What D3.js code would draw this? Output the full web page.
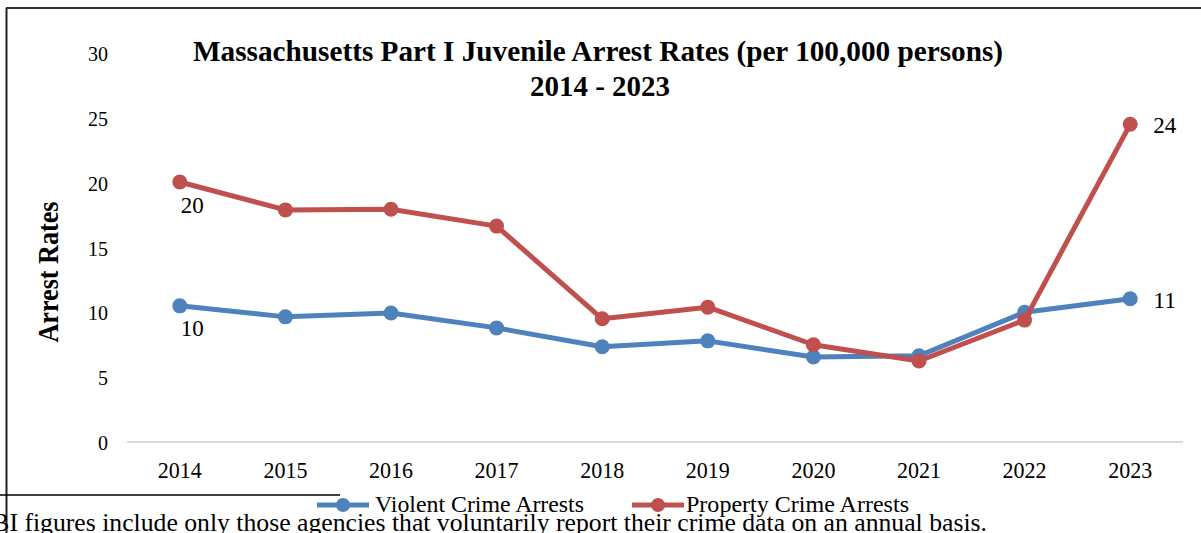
<!DOCTYPE html>
<html><head><meta charset="utf-8">
<script src="https://cdn.jsdelivr.net/npm/d3@7"></script>
<style>body{margin:0;background:#fff;overflow:hidden}svg{display:block}
svg text{font-family:"Liberation Serif","Times New Roman",Times,serif;}
</style>
</head><body>
<svg id="c" width="1201" height="533"></svg>
<script>
const years = ["2014","2015","2016","2017","2018","2019","2020","2021","2022","2023"];
const violent = [10.5, 9.65, 9.95, 8.8, 7.35, 7.8, 6.55, 6.65, 10.0, 11.05];
const property = [20.05, 17.9, 17.95, 16.65, 9.5, 10.4, 7.5, 6.25, 9.4, 24.5];
const yTicks = [0, 5, 10, 15, 20, 25, 30];
const titleLines = ["Massachusetts Part I Juvenile Arrest Rates (per 100,000 persons)", "2014 - 2023"];
const seriesNames = ["Violent Crime Arrests", "Property Crime Arrests"];
const violentLabels = [{i:0, text:"10", pos:"below"}, {i:9, text:"11", pos:"right"}];
const propertyLabels = [{i:0, text:"20", pos:"below"}, {i:9, text:"24", pos:"right"}];
const footnote = "FBI figures include only those agencies that voluntarily report their crime data on an annual basis.";

const colors = ["#4F81BD", "#C0504D"];
const svg = d3.select("#c");

const x = d3.scaleBand().domain(years).range([127, 1183]);
const y = d3.scaleLinear().domain([0, 30]).range([442, 53]);

// frame
svg.append("line").attr("x1",6).attr("x2",1201).attr("y1",8).attr("y2",8).attr("stroke","#333").attr("stroke-width",2);
svg.append("line").attr("x1",6.5).attr("x2",6.5).attr("y1",8).attr("y2",533).attr("stroke","#222").attr("stroke-width",2);

// y axis (labels only)
const yAxis = d3.axisLeft(y).tickValues(yTicks).tickSize(0).tickPadding(0);
const gy = svg.append("g").attr("transform","translate(108,0)").call(yAxis);
gy.attr("font-family",null).attr("font-size",null);
gy.select(".domain").remove();
gy.selectAll("text").attr("font-size",21).attr("fill","#000").attr("dy",null).attr("y",7.5)
  .attr("textLength",d => String(d).length*10).attr("lengthAdjust","spacingAndGlyphs");

// baseline grid
svg.append("line").attr("x1",127).attr("x2",1183).attr("y1",y(0)).attr("y2",y(0)).attr("stroke","#d9d9d9").attr("stroke-width",2);

// x axis labels
const xAxis = d3.axisBottom(x).tickSize(0).tickPadding(0);
const gx = svg.append("g").attr("transform","translate(0,478)").call(xAxis);
gx.attr("font-family",null).attr("font-size",null);
gx.select(".domain").remove();
gx.selectAll("text").attr("font-size",24).attr("fill","#000").attr("dy",null).attr("y",0)
  .attr("textLength",44).attr("lengthAdjust","spacingAndGlyphs");

// titles
svg.append("text").attr("x",598).attr("y",61).attr("text-anchor","middle")
  .attr("font-weight","bold").attr("font-size",28.5).attr("textLength",810).attr("lengthAdjust","spacingAndGlyphs").text(titleLines[0]);
svg.append("text").attr("x",600).attr("y",96).attr("text-anchor","middle")
  .attr("font-weight","bold").attr("font-size",28.5).attr("textLength",140).attr("lengthAdjust","spacingAndGlyphs").text(titleLines[1]);

// y axis title
svg.append("text").attr("transform","translate(58,272) rotate(-90)").attr("text-anchor","middle")
  .attr("font-weight","bold").attr("font-size",29).attr("textLength",141).attr("lengthAdjust","spacingAndGlyphs").text("Arrest Rates");

// series
const cx = d => x(d) + x.bandwidth()/2;
const line = d3.line().x((d,i)=>cx(years[i])).y(d=>y(d));
[violent, property].forEach((vals, k) => {
  svg.append("path").datum(vals).attr("d", line).attr("fill","none").attr("stroke",colors[k])
    .attr("stroke-width",5).attr("stroke-linejoin","round").attr("stroke-linecap","round");
  svg.append("g").selectAll("circle").data(vals).join("circle")
    .attr("cx",(d,i)=>cx(years[i])).attr("cy",d=>y(d)).attr("r",7.5).attr("fill",colors[k]);
});

// data labels
[[violent, violentLabels],[property, propertyLabels]].forEach(([vals, labs]) => {
  labs.forEach(l => {
    const px = cx(years[l.i]), py = y(vals[l.i]);
    const t = svg.append("text").attr("font-size",23.5).attr("fill","#000")
      .attr("textLength",23).attr("lengthAdjust","spacingAndGlyphs").text(l.text);
    if (l.pos === "below") t.attr("x", px + 1).attr("y", py + 30.5);
    else t.attr("x", px + 23).attr("y", py + 9);
  });
});

// footnote separator line and footnote text
svg.append("line").attr("x1",0).attr("x2",340).attr("y1",495).attr("y2",495).attr("stroke","#000").attr("stroke-width",1.5);
svg.append("text").attr("x",-22).attr("y",531).attr("font-size",26).attr("fill","#000")
  .attr("textLength",1009).attr("lengthAdjust","spacingAndGlyphs").text(footnote);

// legend
const legendItems = [{x0:317, tx:375, tl:209}, {x0:632, tx:686, tl:223}];
legendItems.forEach((it, k) => {
  const g = svg.append("g");
  g.append("line").attr("x1",it.x0).attr("x2",it.x0+52).attr("y1",505).attr("y2",505).attr("stroke",colors[k]).attr("stroke-width",5);
  g.append("circle").attr("cx",it.x0+26).attr("cy",505).attr("r",7).attr("fill",colors[k]);
  g.append("text").attr("x",it.tx).attr("y",512).attr("font-size",22.5).attr("fill","#000")
    .attr("textLength",it.tl).attr("lengthAdjust","spacingAndGlyphs").text(seriesNames[k]);
});
</script>
</body></html>
